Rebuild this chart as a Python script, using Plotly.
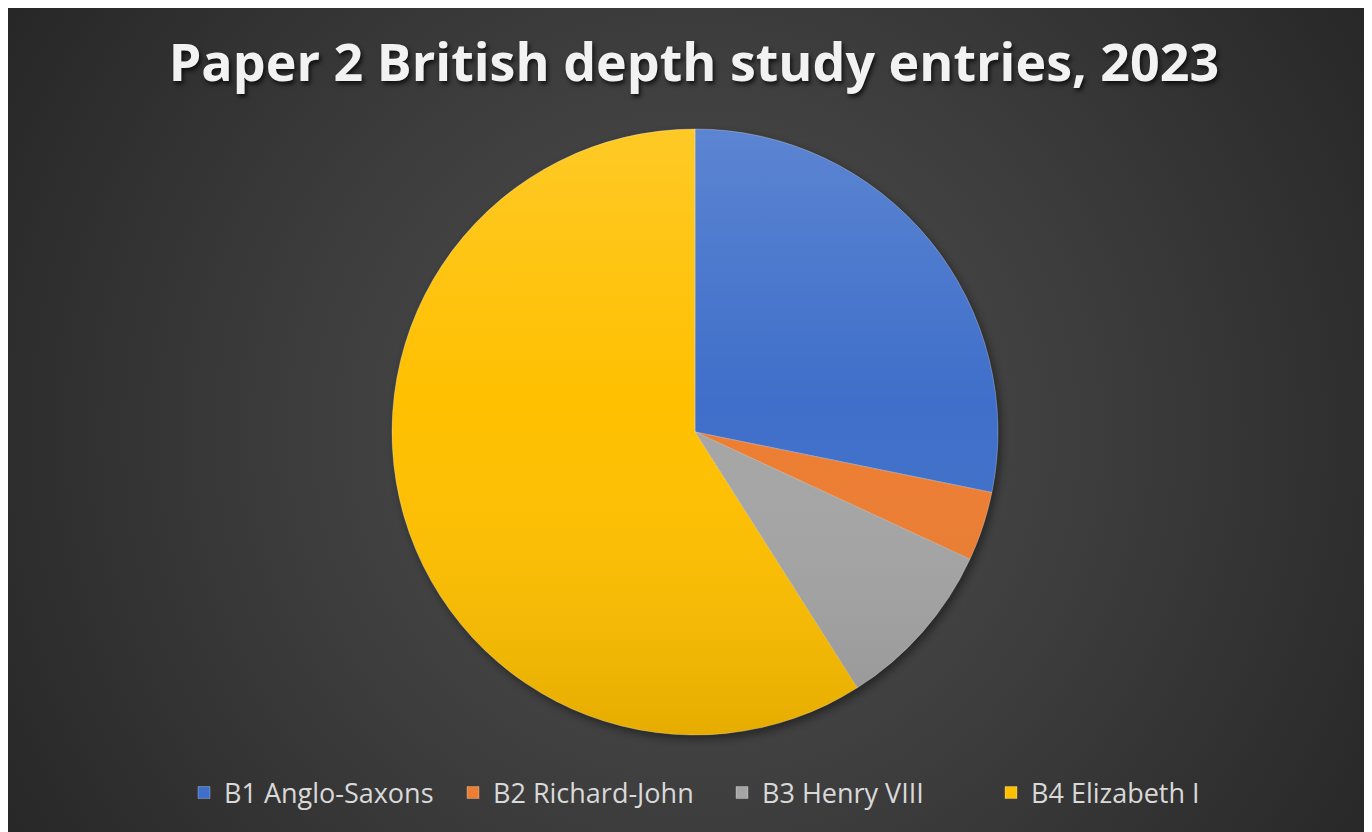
import base64
import plotly.graph_objects as go

categories = ["B1 Anglo-Saxons", "B2 Richard-John", "B3 Henry VIII", "B4 Elizabeth I"]
entries = [28.2, 3.7, 9.1, 59.0]
colors = ["#3F6FCA", "#ED7D31", "#A5A5A5", "#FFC000"]
title_text = "Paper 2 British depth study entries, 2023"

W, H = 1372, 832
OX, OY = 8, 8  # page body offset of the figure
# pie placement (figure pixels)
cx, cy, r = 695 - OX, 432 - OY, 303
dom_x = [(cx - r) / W, (cx + r) / W]
dom_y = [1 - (cy + r) / H, 1 - (cy - r) / H]

bg_svg = f'''<svg xmlns="http://www.w3.org/2000/svg" width="{W}" height="{H}" viewBox="0 0 {W} {H}" preserveAspectRatio="none">
<defs>
<radialGradient id="g" gradientUnits="userSpaceOnUse" cx="{cx}" cy="{cy}" r="820">
<stop offset="0" stop-color="#515151"/>
<stop offset="0.55" stop-color="#3a3a3a"/>
<stop offset="1" stop-color="#262626"/>
</radialGradient>
<filter id="b" x="-20%" y="-20%" width="140%" height="140%"><feGaussianBlur stdDeviation="5"/></filter>
</defs>
<rect x="0" y="0" width="{W}" height="{H}" fill="url(#g)"/>
<circle cx="{cx+3}" cy="{cy+4}" r="{r}" fill="#000" fill-opacity="0.45" filter="url(#b)"/>
</svg>'''

ov_svg = '''<svg xmlns="http://www.w3.org/2000/svg" width="200" height="200" viewBox="0 0 200 200">
<defs>
<linearGradient id="l" x1="0" y1="0" x2="0" y2="1">
<stop offset="0" stop-color="#ffffff" stop-opacity="0.15"/>
<stop offset="0.45" stop-color="#ffffff" stop-opacity="0"/>
<stop offset="1" stop-color="#000000" stop-opacity="0.1"/>
</linearGradient>
</defs>
<circle cx="100" cy="100" r="100" fill="url(#l)"/>
</svg>'''

def uri(s):
    return "data:image/svg+xml;base64," + base64.b64encode(s.encode()).decode()

fig = go.Figure(go.Pie(
    labels=categories,
    values=entries,
    marker=dict(colors=colors, line=dict(color="rgba(255,255,255,0.35)", width=0.8)),
    sort=False,
    direction="clockwise",
    rotation=0,
    textinfo="none",
    hoverinfo="label+value+percent",
    domain=dict(x=dom_x, y=dom_y),
))

fig.update_layout(
    width=W, height=H,
    autosize=False,
    margin=dict(l=0, r=0, t=0, b=0),
    paper_bgcolor="#2e2e2e",
    images=[
        dict(source=uri(bg_svg), xref="paper", yref="paper", x=0, y=1,
             sizex=1, sizey=1, sizing="stretch", xanchor="left", yanchor="top", layer="below"),
        dict(source=uri(ov_svg), xref="paper", yref="paper", x=dom_x[0], y=dom_y[1],
             sizex=dom_x[1] - dom_x[0], sizey=dom_y[1] - dom_y[0], sizing="stretch",
             xanchor="left", yanchor="top", layer="above"),
    ],
    title=dict(
        text=title_text,
        x=(694 - OX) / W, xanchor="center",
        y=1 - (63 - OY) / H, yanchor="middle",
        font=dict(family="Open Sans", size=52, weight="bold", color="#F2F2F2",
                  shadow="2px 3px 4px rgba(0,0,0,0.7)"),
    ),
    showlegend=True,
    legend=dict(
        orientation="h",
        x=(184 - OX) / W, xanchor="left",
        y=1 - (793 - OY) / H, yanchor="middle",
        font=dict(family="Open Sans", size=27, color="#D9D9D9"),
        bgcolor="rgba(0,0,0,0)",
        itemwidth=30,
        entrywidth=224,
        entrywidthmode="pixels",
    ),
)

fig.write_html("out.html")
